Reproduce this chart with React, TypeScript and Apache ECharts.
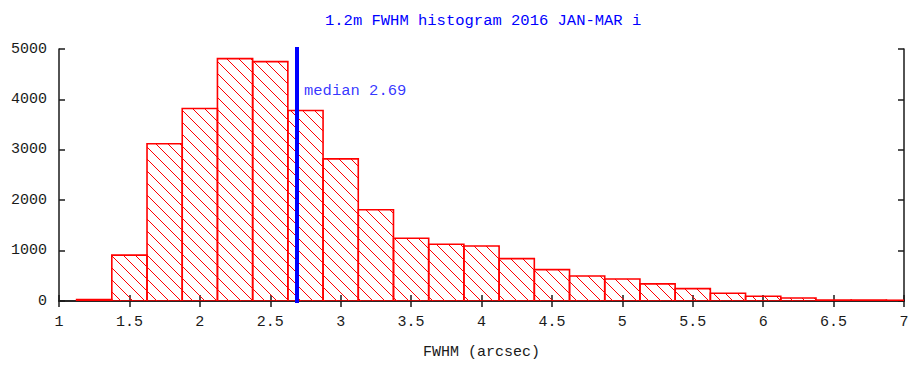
import React, { useEffect, useRef } from "react";
import * as echarts from "echarts";

// Histogram of seeing (FWHM) values, 0.25" bins, labelled by bin centre
const BIN_WIDTH = 0.25;
const binCenters = [
  1.25, 1.5, 1.75, 2.0, 2.25, 2.5, 2.75, 3.0, 3.25, 3.5, 3.75, 4.0, 4.25,
  4.5, 4.75, 5.0, 5.25, 5.5, 5.75, 6.0, 6.25, 6.5, 6.75, 7.0,
];
const binCounts = [
  30, 910, 3120, 3820, 4810, 4750, 3780, 2820, 1810, 1245, 1125, 1090, 840,
  622, 497, 437, 340, 245, 155, 94, 60, 20, 18, 15,
];
const MEDIAN = 2.69;
const xTicks = { min: 1, max: 7, interval: 0.5 };
const yTicks = { min: 0, max: 5000, interval: 1000 };

const TITLE = "1.2m FWHM histogram 2016 JAN-MAR i";
const X_NAME = "FWHM (arcsec)";

const FONT = "'Liberation Mono', 'DejaVu Sans Mono', monospace";
const RED = "#ff0000";
const BLUE = "#0000ff";
const INK = "#1a1a1a";
const HATCH_STEP = 12;

export default function App() {
  const ref = useRef<HTMLDivElement>(null);

  useEffect(() => {
    if (!ref.current) return;
    const chart = echarts.init(ref.current, null, { renderer: "svg" });

    const axisLine = { show: true, lineStyle: { color: INK, width: 1.5 } };
    const axisTick = { show: true, inside: true, length: 6, lineStyle: { color: INK, width: 1.5 } };

    const histData = binCenters.map((c, i) => [c, binCounts[i]]);

    const option: any = {
      animation: false,
      backgroundColor: "#ffffff",
      title: {
        text: TITLE,
        left: 320,
        top: 8,
        textStyle: { fontFamily: FONT, fontSize: 15.5, fontWeight: "normal", color: BLUE },
      },
      grid: { left: 59, right: 12, top: 49, bottom: 66 },
      xAxis: [
        {
          type: "value",
          position: "bottom",
          ...xTicks,
          axisLine,
          axisTick,
          splitLine: { show: false },
          axisLabel: {
            fontFamily: FONT,
            fontSize: 15,
            color: INK,
            margin: 14,
            formatter: (v: number) => String(v),
          },
          name: X_NAME,
          nameLocation: "middle",
          nameGap: 44,
          nameTextStyle: { fontFamily: FONT, fontSize: 15, color: INK },
        },
        {
          type: "value",
          position: "top",
          ...xTicks,
          axisLine,
          axisTick,
          splitLine: { show: false },
          axisLabel: { show: false },
        },
      ],
      yAxis: [
        {
          type: "value",
          position: "left",
          ...yTicks,
          axisLine,
          axisTick,
          splitLine: { show: false },
          axisLabel: {
            fontFamily: FONT,
            fontSize: 15,
            color: INK,
            margin: 12,
            formatter: (v: number) => String(v),
          },
        },
        {
          type: "value",
          position: "right",
          ...yTicks,
          axisLine,
          axisTick,
          splitLine: { show: false },
          axisLabel: { show: false },
        },
      ],
      series: [
        {
          type: "custom",
          coordinateSystem: "cartesian2d",
          xAxisIndex: 0,
          yAxisIndex: 0,
          encode: { x: 0, y: 1 },
          data: histData,
          clip: true,
          renderItem: (params: any, api: any) => {
            const c = api.value(0);
            const v = api.value(1);
            const tl = api.coord([c - BIN_WIDTH / 2, v]);
            const br = api.coord([c + BIN_WIDTH / 2, 0]);
            const cs = params.coordSys;
            const L = Math.max(tl[0], cs.x);
            const R = Math.min(br[0], cs.x + cs.width);
            const T = tl[1];
            const B = br[1];
            const children: any[] = [];
            // diagonal "\" hatching, aligned to the page so it runs on across bars
            const kMin = Math.floor((L - B) / HATCH_STEP) * HATCH_STEP;
            const kMax = Math.ceil((R - T) / HATCH_STEP) * HATCH_STEP;
            for (let k = kMin; k <= kMax; k += HATCH_STEP) {
              const xs = Math.max(L, T + k);
              const xe = Math.min(R, B + k);
              if (xe > xs) {
                children.push({
                  type: "line",
                  shape: { x1: xs, y1: xs - k, x2: xe, y2: xe - k },
                  style: { stroke: RED, lineWidth: 1 },
                });
              }
            }
            children.push({
              type: "rect",
              shape: { x: L, y: T, width: R - L, height: B - T },
              style: { fill: "none", stroke: RED, lineWidth: 1.6 },
            });
            return { type: "group", children };
          },
        },
        {
          type: "scatter",
          xAxisIndex: 0,
          yAxisIndex: 0,
          symbolSize: 0,
          silent: true,
          data: [[MEDIAN, 4160]],
          label: {
            show: true,
            position: "right",
            distance: 7,
            formatter: () => `median ${MEDIAN.toFixed(2)}`,
            fontFamily: FONT,
            fontSize: 15.5,
            color: BLUE,
          },
          markLine: {
            silent: true,
            symbol: "none",
            label: { show: false },
            lineStyle: { color: BLUE, width: 4, type: "solid", cap: "square" },
            data: [[{ coord: [MEDIAN, yTicks.min] }, { coord: [MEDIAN, yTicks.max] }]],
          },
          z: 5,
        },
      ],
    };

    chart.setOption(option);
    return () => chart.dispose();
  }, []);

  return (
    <div
      ref={ref}
      style={{ position: "fixed", left: 0, top: 0, width: 916, height: 367, background: "#fff" }}
    />
  );
}
